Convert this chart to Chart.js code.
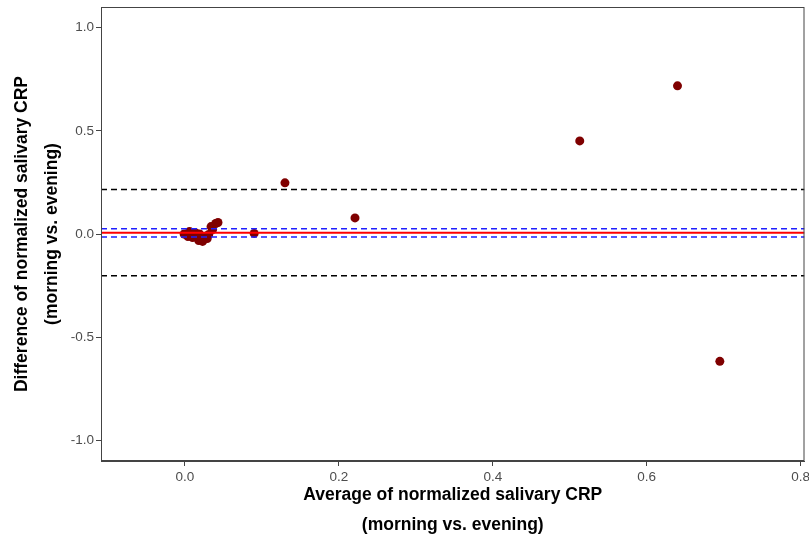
<!DOCTYPE html>
<html>
<head>
<meta charset="utf-8">
<script src="https://cdn.jsdelivr.net/npm/chart.js@4"></script>
<style>
  html, body { margin: 0; padding: 0; background: #fff; }
  #wrap { width: 809px; height: 537px; }
</style>
</head>
<body>
<div id="wrap"><canvas id="myChart"></canvas></div>
<script>
// average (x) and difference (y) of normalized salivary CRP, morning vs. evening
var avgCrp  = [-0.001, 0.001, 0.004, 0.006, 0.008, 0.010, 0.013, 0.016, 0.018, 0.019, 0.021, 0.023, 0.026, 0.029, 0.031, 0.034, 0.036, 0.040, 0.043, 0.090, 0.130, 0.221, 0.513, 0.640, 0.695];
var diffCrp = [0.000, -0.002, -0.012, 0.012, 0.002, -0.017, 0.007, -0.007, -0.032, 0.000, -0.022, -0.036, -0.012, -0.022, -0.002, 0.036, 0.022, 0.051, 0.056, 0.003, 0.248, 0.078, 0.451, 0.718, -0.617];

var meanDiff = 0.006;
var ciLimits = [0.026, -0.014];
var loaLimits = [0.216, -0.202];

var xMin = -0.109, xMax = 0.805;
var yMin = -1.1, yMax = 1.1;

function hline(y) {
    return [{x: xMin, y: y}, {x: xMax, y: y}];
}

var points = avgCrp.map(function (v, i) { return {x: v, y: diffCrp[i]}; });

var lineStyle = { type: 'line', pointRadius: 0, fill: false, tension: 0 };

var panelBorder = {
    id: 'panelBorder',
    afterDraw: function (chart) {
        var a = chart.chartArea, ctx = chart.ctx;
        ctx.save();
        ctx.strokeStyle = '#444';
        ctx.lineWidth = 1;
        ctx.strokeRect(a.left + 0.5, a.top + 0.5, a.right - a.left - 1, a.bottom - a.top - 1);
        ctx.restore();
    }
};

var tickFont = { family: 'Liberation Sans, Arial, sans-serif', size: 13.5 };
var titleFont = { family: 'Liberation Sans, Arial, sans-serif', size: 17.5, weight: 'bold', lineHeight: '30px' };

const ctx = document.getElementById('myChart').getContext('2d');
const myChart = new Chart(ctx, {
    type: 'scatter',
    data: {
        datasets: [
            Object.assign({ data: hline(meanDiff), borderColor: '#ff0000', borderWidth: 2 }, lineStyle),
            Object.assign({ data: hline(ciLimits[0]), borderColor: '#1f1fff', borderWidth: 1.5, borderDash: [6, 4] }, lineStyle),
            Object.assign({ data: hline(ciLimits[1]), borderColor: '#1f1fff', borderWidth: 1.5, borderDash: [6, 4] }, lineStyle),
            Object.assign({ data: hline(loaLimits[0]), borderColor: '#000', borderWidth: 1.5, borderDash: [6, 4] }, lineStyle),
            Object.assign({ data: hline(loaLimits[1]), borderColor: '#000', borderWidth: 1.5, borderDash: [6, 4] }, lineStyle),
            {
                data: points,
                backgroundColor: '#7f0000',
                borderColor: '#7f0000',
                pointRadius: 4.5,
                borderWidth: 0
            }
        ]
    },
    options: {
        maintainAspectRatio: false,
        responsive: true,
        animation: false,
        layout: { padding: { top: 7, right: 4, left: 0, bottom: 0 } },
        plugins: { legend: { display: false }, tooltip: { enabled: false } },
        scales: {
            x: {
                type: 'linear',
                min: xMin,
                max: xMax,
                grid: { drawOnChartArea: false, color: '#444', tickLength: 5 },
                border: { display: true, color: '#444' },
                ticks: {
                    stepSize: 0.2,
                    includeBounds: false,
                    maxRotation: 0,
                    padding: 3,
                    color: '#4d4d4d',
                    font: tickFont,
                    callback: function (v) { return v.toFixed(1); }
                },
                title: {
                    display: true,
                    text: ['Average of normalized salivary CRP', '(morning vs. evening)'],
                    color: '#000',
                    font: titleFont,
                    padding: { top: 0, bottom: -3 }
                },
                afterFit: function (scale) {
                    scale.height = 76;
                    scale.paddingLeft = 0;
                    scale.paddingRight = 0;
                }
            },
            y: {
                type: 'linear',
                min: yMin,
                max: yMax,
                grid: { drawOnChartArea: false, color: '#444', tickLength: 5 },
                border: { display: true, color: '#444' },
                ticks: {
                    stepSize: 0.5,
                    includeBounds: false,
                    padding: 2,
                    color: '#4d4d4d',
                    font: tickFont,
                    callback: function (v) { return v.toFixed(1); }
                },
                title: {
                    display: true,
                    text: ['Difference of normalized salivary CRP', '(morning vs. evening)'],
                    color: '#000',
                    font: titleFont,
                    padding: { top: 7, bottom: 0 }
                },
                afterFit: function (scale) {
                    scale.width = 101;
                    scale.paddingTop = 0;
                    scale.paddingBottom = 0;
                }
            }
        }
    },
    plugins: [panelBorder]
});
</script>
</body>
</html>
